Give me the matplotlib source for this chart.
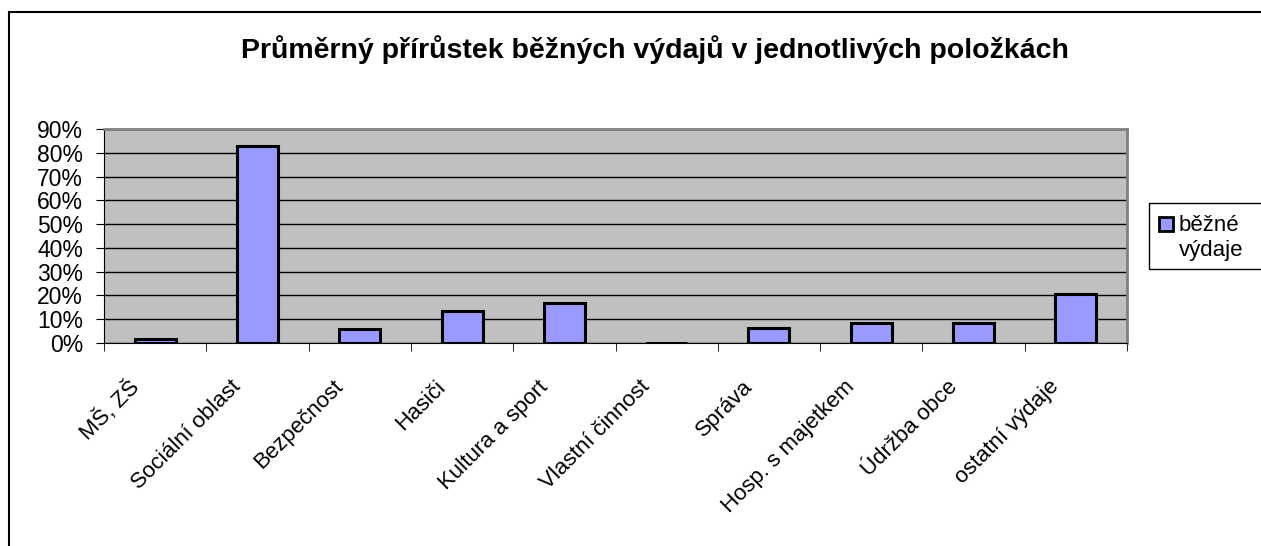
import numpy as np
import matplotlib.pyplot as plt
from matplotlib.patches import Rectangle
from matplotlib.ticker import PercentFormatter
from matplotlib.transforms import ScaledTranslation

plt.rcParams['font.family'] = ['Liberation Sans', 'DejaVu Sans']

categories = ['MŠ, ZŠ', 'Sociální oblast', 'Bezpečnost', 'Hasiči', 'Kultura a sport',
              'Vlastní činnost', 'Správa', 'Hosp. s majetkem', 'Údržba obce', 'ostatní výdaje']
values = [1.7, 83.0, 5.8, 13.3, 17.0, 0.0, 6.3, 8.6, 8.6, 20.8]
yticks = list(range(0, 91, 10))
series_name = 'běžné\nvýdaje'

W, H = 1261, 546
fig = plt.figure(figsize=(W / 100, H / 100), dpi=100)
fig.patches.append(Rectangle((9 / W, -0.01), 1.0, (H - 12) / H + 0.01,
                             transform=fig.transFigure, fill=False,
                             edgecolor='black', linewidth=1.5))

ax = fig.add_axes([104 / W, 1 - 343 / H, (1127 - 104) / W, (343 - 129) / H])
ax.set_facecolor('#c0c0c0')

x = np.arange(len(categories))
bars = ax.bar(x, values, width=0.4, color='#9999ff', edgecolor='black',
              linewidth=2.2, zorder=3)

ax.set_xlim(-0.5, len(categories) - 0.5)
ax.set_ylim(0, 90)
ax.set_yticks(yticks)
ax.yaxis.set_major_formatter(PercentFormatter(decimals=0))
ax.yaxis.grid(True, color='black', linewidth=1, zorder=1)
ax.set_axisbelow(True)

ax.set_xticks(x)
ax.set_xticklabels(categories, rotation=45, ha='right', va='top',
                   rotation_mode='anchor', fontsize=16)
ax.set_xticks(np.arange(-0.5, len(categories)), minor=True)
ax.tick_params(axis='x', which='major', length=0, pad=24)
ax.tick_params(axis='x', which='minor', length=6, color='black')
ax.tick_params(axis='y', labelsize=16.5, length=6, pad=9)

# nudge the rotated labels left (after tick_params, which resets transforms)
shift = ScaledTranslation(-27 / 100, 0, fig.dpi_scale_trans)
for lbl in ax.get_xticklabels():
    lbl.set_transform(lbl.get_transform() + shift)

for side in ['top', 'right']:
    ax.spines[side].set_color('#808080')
    ax.spines[side].set_linewidth(2)
ax.spines['left'].set_color('black')
ax.spines['bottom'].set_color('black')

fig.text(655 / W, 1 - 50 / H, 'Průměrný přírůstek běžných výdajů v jednotlivých položkách',
         ha='center', va='center', fontsize=20.5, fontweight='bold')

# legend box drawn by hand so the marker sits on the first line
fig.patches.append(Rectangle((1149 / W, 1 - 269 / H), 120 / W, 66 / H,
                             transform=fig.transFigure, facecolor='white',
                             edgecolor='black', linewidth=1))
fig.patches.append(Rectangle((1159 / W, 1 - 231 / H), 14 / W, 14 / H,
                             transform=fig.transFigure, facecolor='#9999ff',
                             edgecolor='black', linewidth=2))
fig.text(1179 / W, 1 - 238 / H, series_name, ha='left', va='center',
         fontsize=16, linespacing=1.3)

fig.savefig('out.png', dpi=100)
